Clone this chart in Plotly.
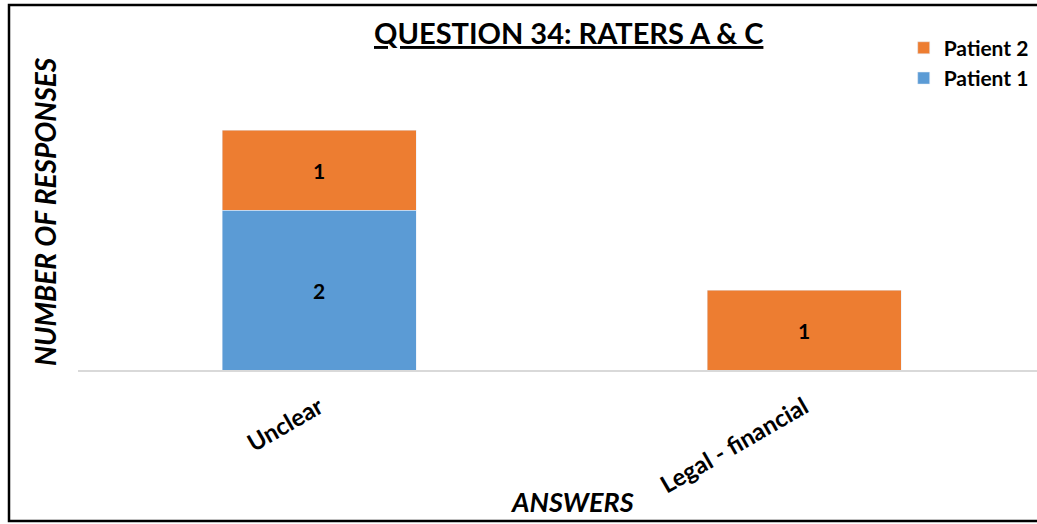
import plotly.graph_objects as go

categories = ["Unclear", "Legal - financial"]
patient1 = [2, None]
patient2 = [1, 1]

BLUE = "#5B9BD5"
ORANGE = "#ED7D31"
FONT = "Lato"

fig = go.Figure()
fig.add_trace(go.Bar(
    x=categories, y=patient1, name="Patient 1", marker_color=BLUE,
    width=0.4, text=patient1, textposition="inside", insidetextanchor="middle",
    textfont=dict(family=FONT, size=21, color="black", weight="bold"),
))
fig.add_trace(go.Bar(
    x=categories, y=patient2, name="Patient 2", marker_color=ORANGE,
    width=0.4, text=patient2, textposition="inside", insidetextanchor="middle",
    textfont=dict(family=FONT, size=21, color="black", weight="bold"),
))

fig.update_layout(
    width=1037, height=524,
    barmode="stack",
    paper_bgcolor="white", plot_bgcolor="white",
    margin=dict(l=78, r=0, t=50, b=154),
    font=dict(family=FONT, color="black"),
    showlegend=True,
    legend=dict(
        x=0.861, y=1.07, xanchor="left", yanchor="top",
        traceorder="reversed",
        font=dict(family=FONT, size=21, color="black", weight="bold"),
        itemwidth=30, tracegroupgap=0, bgcolor="rgba(0,0,0,0)",
    ),
    xaxis=dict(
        range=[-0.497, 1.48], showline=True, linecolor="#d9d9d9", linewidth=2,
        ticks="", tickangle=-30, ticklabelstandoff=12,
        tickfont=dict(family=FONT, size=24, color="black", weight="bold"),
        showgrid=False, zeroline=False,
    ),
    yaxis=dict(
        range=[0, 4], showticklabels=False, showgrid=False, zeroline=False,
        showline=False, ticks="",
    ),
    annotations=[
        dict(text="<u>QUESTION 34: RATERS A & C</u>", xref="paper", yref="paper",
             x=(568 - 78) / 959, y=(370 - 33) / 320, xanchor="center", yanchor="middle",
             showarrow=False, font=dict(family=FONT, size=29, color="black", weight="bold")),
        dict(text="<i>NUMBER OF RESPONSES</i>", xref="paper", yref="paper",
             x=(45 - 78) / 959, y=(370 - 212) / 320, xanchor="center", yanchor="middle",
             textangle=-90, showarrow=False,
             font=dict(family=FONT, size=28, color="black", weight="bold")),
        dict(text="<i>ANSWERS</i>", xref="paper", yref="paper",
             x=(572 - 78) / 959, y=(370 - 501) / 320, xanchor="center", yanchor="middle",
             showarrow=False, font=dict(family=FONT, size=27, color="black", weight="bold")),
    ],
    shapes=[
        dict(type="rect", xref="paper", yref="paper",
             x0=(9 - 78) / 959, x1=1.02, y0=(370 - 521) / 320, y1=(370 - 5) / 320,
             line=dict(color="black", width=2.5), fillcolor="rgba(0,0,0,0)", layer="below"),
    ],
)

fig.write_html("out.html", config={"displayModeBar": False},
               post_script="document.body.style.margin='0';")
